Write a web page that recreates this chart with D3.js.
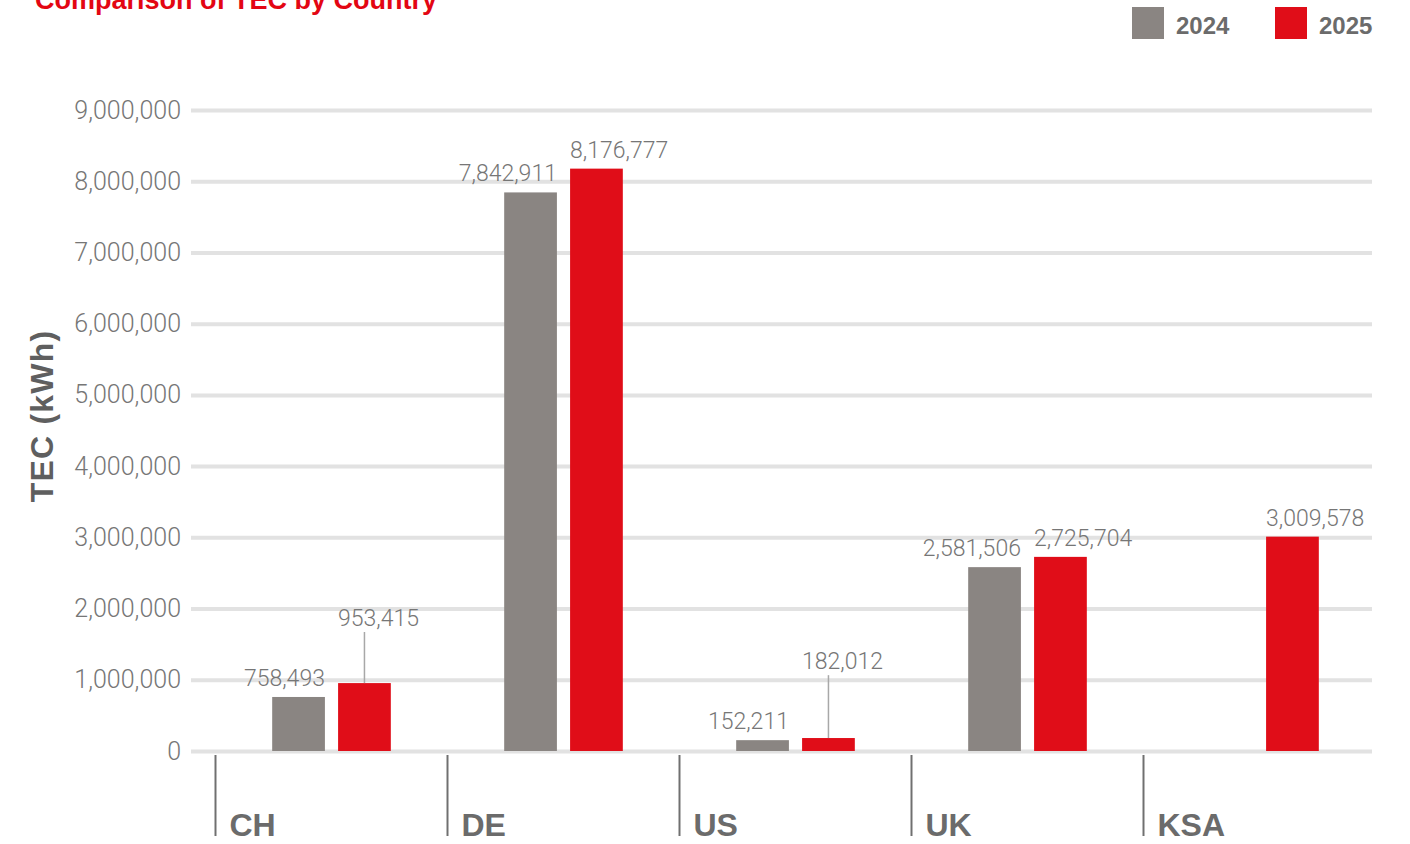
<!DOCTYPE html>
<html>
<head>
<meta charset="utf-8">
<script src="https://cdn.jsdelivr.net/npm/d3@7"></script>
<style>
  html, body { margin: 0; padding: 0; background: #fff; }
  svg { display: block; }
</style>
</head>
<body>
<svg id="chart"></svg>
<script>
const categories = ["CH", "DE", "US", "UK", "KSA"];
const seriesNames = ["2024", "2025"];
const values2024 = [758493, 7842911, 152211, 2581506, null];
const values2025 = [953415, 8176777, 182012, 2725704, 3009578];
const yTicks = [0, 1000000, 2000000, 3000000, 4000000, 5000000, 6000000, 7000000, 8000000, 9000000];

const GREY = "#8a8582";
const RED = "#e00d18";
const TEXT = "#6b6b6b";
const GRID = "#e2e2e2";

const width = 1410;
const height = 844;
const axisBottom = 836;

const rows = categories.map((c, i) => ({
  country: c,
  bars: [
    { series: "2024", value: values2024[i] },
    { series: "2025", value: values2025[i] },
  ],
}));

const svg = d3.select("#chart").attr("width", width).attr("height", height);

const y = d3.scaleLinear().domain([0, 9000000]).range([751, 110]);

const x0 = d3.scaleBand().domain(categories).range([215.5, 1375.5]).padding(0);
const x1 = d3
  .scaleBand()
  .domain(seriesNames)
  .range([0, x0.bandwidth()])
  .paddingInner(0.2)
  .paddingOuter(0.86);

const color = d3.scaleOrdinal().domain(seriesNames).range([GREY, RED]);
const fmt = d3.format(",");

// title (cut by the top edge in the reference)
svg
  .append("text")
  .attr("x", 35)
  .attr("y", 9)
  .attr("fill", "#e30613")
  .style("font-family", "Liberation Sans, Arial, sans-serif")
  .style("font-weight", "bold")
  .style("font-size", "27px")
  .text("Comparison of TEC by Country");

// legend
const legend = svg
  .append("g")
  .selectAll("g")
  .data(seriesNames)
  .enter()
  .append("g")
  .attr("transform", (d, i) => "translate(" + (1132 + i * 143) + ",7)");
legend
  .append("rect")
  .attr("width", 32)
  .attr("height", 32)
  .attr("fill", (d) => color(d));
legend
  .append("text")
  .attr("x", 44)
  .attr("y", 27)
  .attr("fill", TEXT)
  .style("font-family", "Liberation Sans, Arial, sans-serif")
  .style("font-weight", "bold")
  .style("font-size", "24px")
  .text((d) => d);

// grid + y axis
svg
  .append("g")
  .attr("transform", "translate(191,0)")
  .call(d3.axisLeft(y).tickValues(yTicks).tickFormat(fmt).tickSize(-1181).tickPadding(10))
  .call((g) => g.select(".domain").remove())
  .call((g) => g.selectAll("line").attr("stroke", GRID).attr("stroke-width", 4))
  .call((g) =>
    g
      .selectAll("text")
      .attr("fill", "#767676")
      .style("font-family", "Roboto, sans-serif")
      .style("font-weight", 300)
      .style("font-size", "25px")
  );

// y title
svg
  .append("text")
  .attr("transform", "translate(53,416) rotate(-90)")
  .attr("text-anchor", "middle")
  .attr("fill", "#5f5f5f")
  .style("font-family", "Liberation Sans, Arial, sans-serif")
  .style("font-weight", "bold")
  .style("font-size", "32px")
  .style("letter-spacing", "1.2px")
  .text("TEC (kWh)");

// category dividers and labels
const cat = svg
  .append("g")
  .selectAll("g")
  .data(categories)
  .enter()
  .append("g")
  .attr("transform", (d) => "translate(" + x0(d) + ",0)");
cat
  .append("line")
  .attr("y1", 755)
  .attr("y2", axisBottom)
  .attr("stroke", "#707070")
  .attr("stroke-width", 2);
cat
  .append("text")
  .attr("x", 14)
  .attr("y", axisBottom)
  .attr("fill", TEXT)
  .style("font-family", "Liberation Sans, Arial, sans-serif")
  .style("font-weight", "bold")
  .style("font-size", "32px")
  .text((d) => d);

// bars
const groups = svg
  .append("g")
  .selectAll("g")
  .data(rows)
  .enter()
  .append("g")
  .attr("transform", (d) => "translate(" + x0(d.country) + ",0)");

groups
  .selectAll("rect")
  .data((d) => d.bars.filter((b) => b.value != null))
  .enter()
  .append("rect")
  .attr("x", (d) => x1(d.series))
  .attr("y", (d) => y(d.value))
  .attr("width", x1.bandwidth())
  .attr("height", (d) => y(0) - y(d.value))
  .attr("fill", (d) => color(d.series));

// value labels: 2024 right-aligned on bar edge, 2025 left-aligned;
// short 2025 bars (under one grid step) get a lifted label with a leader line
const labelFont = (sel) =>
  sel
    .attr("fill", "#767676")
    .style("font-family", "Roboto, sans-serif")
    .style("font-weight", 300)
    .style("font-size", "23px");

groups.each(function (d) {
  const g = d3.select(this);
  const [a, b] = d.bars;
  let greyBase = null;
  if (a.value != null) {
    greyBase = y(a.value) - 11;
    g.append("text")
      .attr("x", x1(a.series) + x1.bandwidth())
      .attr("y", greyBase)
      .attr("text-anchor", "end")
      .call(labelFont)
      .text(fmt(a.value));
  }
  let base = y(b.value) - 11;
  const lifted = b.value < 1000000 && greyBase != null;
  if (lifted) {
    base = greyBase - 60;
    const cx = x1(b.series) + x1.bandwidth() / 2;
    g.append("line")
      .attr("x1", cx)
      .attr("x2", cx)
      .attr("y1", base + 6)
      .attr("y2", y(b.value))
      .attr("stroke", "#a8a8a8")
      .attr("stroke-width", 1.5);
  }
  g.append("text")
    .attr("x", x1(b.series))
    .attr("y", base)
    .attr("text-anchor", "start")
    .call(labelFont)
    .text(fmt(b.value));
});
</script>
</body>
</html>
